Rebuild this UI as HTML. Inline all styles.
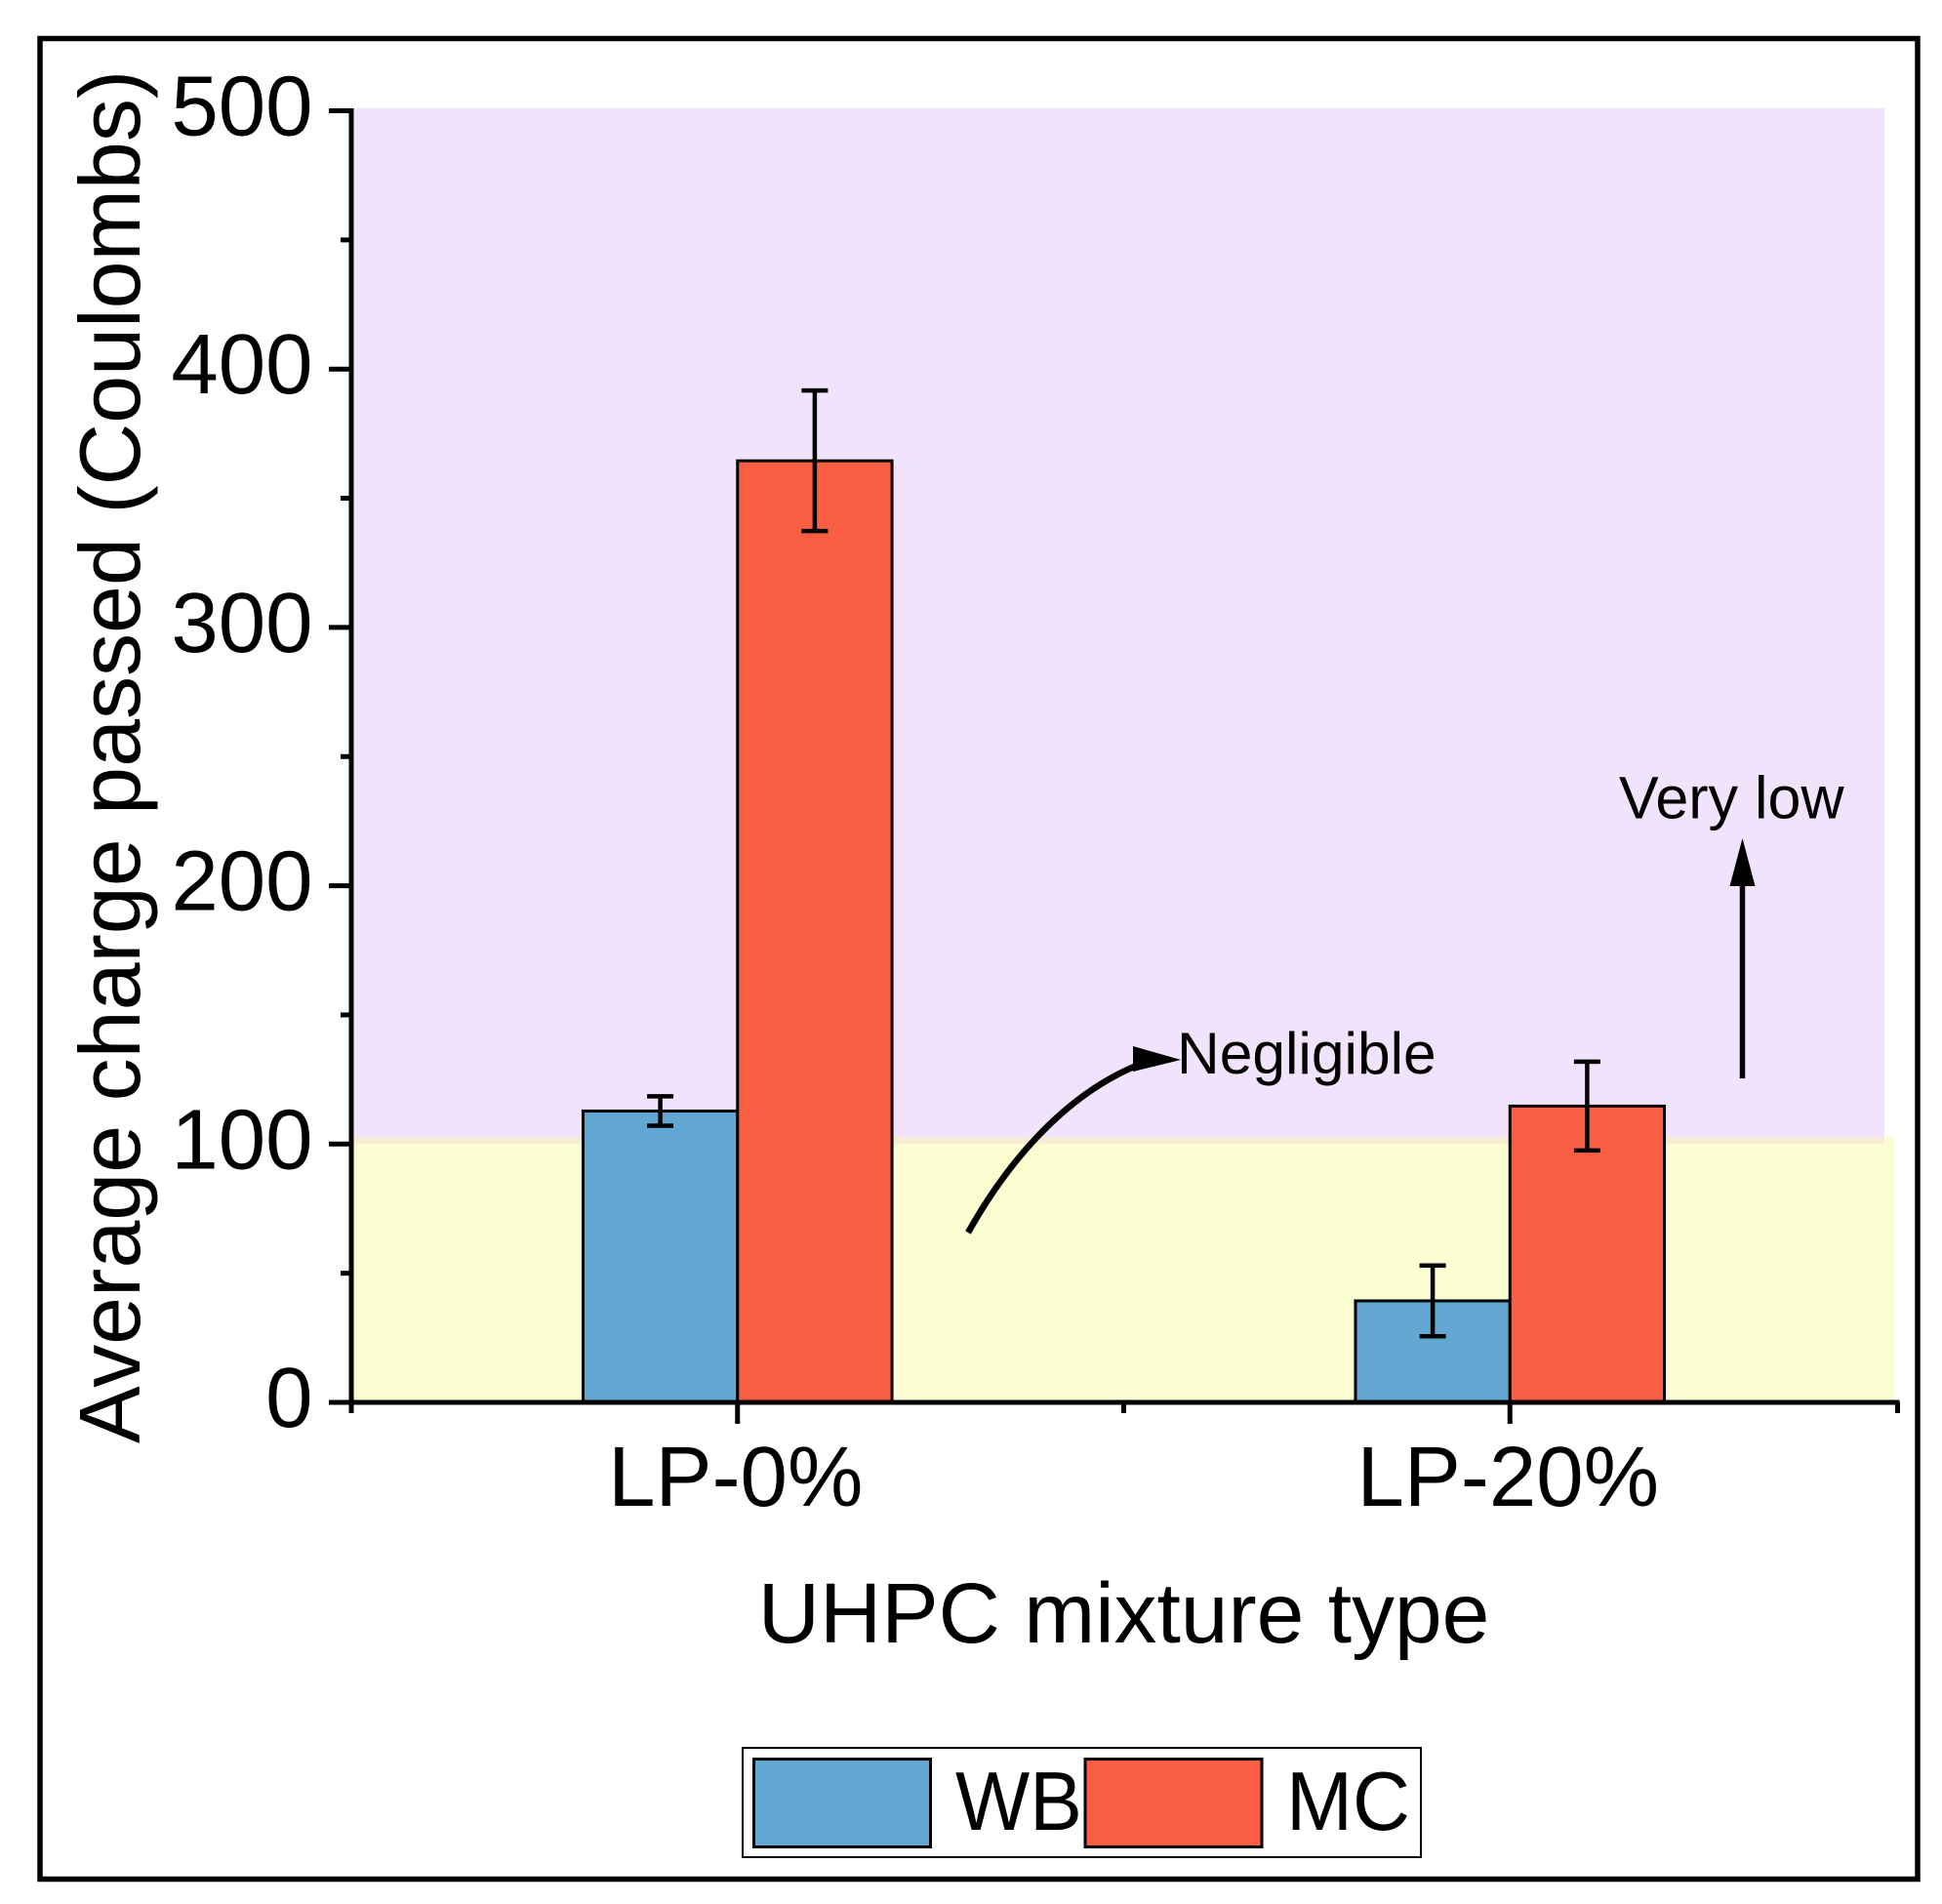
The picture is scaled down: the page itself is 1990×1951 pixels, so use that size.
<!DOCTYPE html>
<html lang="en">
<head>
<meta charset="utf-8">
<title>Average charge passed by UHPC mixture type</title>
<style>
html,body{margin:0;padding:0;background:#fff;width:1990px;height:1951px;overflow:hidden}
svg{display:block;font-family:"Liberation Sans",Arial,sans-serif}
text{fill:#000}
</style>
</head>
<body>
<svg id="chart" xmlns="http://www.w3.org/2000/svg" width="1990" height="1951" viewBox="0 0 1990 1951">
  <rect x="0" y="0" width="1990" height="1951" fill="#fff"/>
  <rect x="41" y="39.5" width="1924" height="1886" fill="none" stroke="#000" stroke-width="5.5"/>
  <g id="bands"></g>
  <g id="bars"></g>
  <g id="errors"></g>
  <g id="axes"></g>
  <text transform="translate(143,1479) rotate(-90)" font-size="88">Average charge passed (Coulombs)</text>
  <text x="1151.5" y="1683" font-size="87.6" text-anchor="middle">UHPC mixture type</text>
  <g>
    <path d="M992,1263 C1030,1195 1090,1120 1172,1089" fill="none" stroke="#000" stroke-width="6.5"/>
    <polygon points="1210,1086 1161,1072 1161,1098" fill="#000"/>
    <text x="1206" y="1100" font-size="60.5">Negligible</text>
  </g>
  <g>
    <line x1="1785.5" y1="1105" x2="1785.5" y2="900" stroke="#000" stroke-width="5.5"/>
    <polygon points="1785.5,859 1772.5,908 1798.5,908" fill="#000"/>
    <text x="1659" y="838.5" font-size="61">Very low</text>
  </g>
  <g>
    <rect x="761" y="1791" width="695" height="112" fill="#fff" stroke="#000" stroke-width="2"/>
    <rect x="772.5" y="1802.5" width="181" height="90" fill="#62A6D2" stroke="#000" stroke-width="3"/>
    <text x="979" y="1875" font-size="85" textLength="130" lengthAdjust="spacingAndGlyphs">WB</text>
    <rect x="1112" y="1802.5" width="181" height="90" fill="#F95E42" stroke="#000" stroke-width="3"/>
    <text x="1318" y="1875" font-size="85" textLength="127" lengthAdjust="spacingAndGlyphs">MC</text>
  </g>
</svg>
<script>
const categories = ['LP-0%', 'LP-20%'];
const wbValues = [112.8, 39.3];
const mcValues = [364.5, 114.7];
const wbErrors = [5.7, 13.7];
const mcErrors = [27.2, 17.2];
const yMajorTicks = [0, 100, 200, 300, 400, 500];
const yMinorTicks = [50, 150, 250, 350, 450];
const xMinorTicks = [0.5, 1.5, 2.5];
const highBandRange = [100, 501];
const lowBandRange = [0, 102.6];

const NS = 'http://www.w3.org/2000/svg';
function yScale(v) { return 1437 - v * 2.647; }
function xScale(c) { return 360 + (c - 0.5) * 791.5; }
const barWidth = xScale(0.7) - xScale(0.5);

function make(parentId, tag, attrs, text) {
  const el = document.createElementNS(NS, tag);
  for (const k in attrs) el.setAttribute(k, attrs[k]);
  if (text !== undefined) el.textContent = text;
  document.getElementById(parentId).appendChild(el);
  return el;
}
function line(parentId, x1, y1, x2, y2, w) {
  return make(parentId, 'line', { x1: x1, y1: y1, x2: x2, y2: y2, stroke: '#000', 'stroke-width': w });
}

// Rating bands
const highBand = make('bands', 'rect', { x: 363, y: yScale(highBandRange[1]), width: 1568, height: yScale(highBandRange[0]) - yScale(highBandRange[1]), fill: '#F2E3FD' });


const lowBand = make('bands', 'rect', { x: 362, y: yScale(lowBandRange[1]), width: 1579, height: yScale(lowBandRange[0]) - yScale(lowBandRange[1]), fill: '#FBFED1' });


const overlapBand = make('bands', 'rect', { x: 363, y: yScale(lowBandRange[1]), width: 1568, height: yScale(highBandRange[0]) - yScale(lowBandRange[1]), fill: '#F6EDD3' });



// Bars and error bars
categories.forEach(function (cat, i) {
  const cx = xScale(i + 1);

  const wbBar = make('bars', 'rect', { x: cx - barWidth, y: yScale(wbValues[i]), width: barWidth, height: yScale(0) - yScale(wbValues[i]), fill: '#62A6D2', stroke: '#000', 'stroke-width': 3 });
  
  

  const mcBar = make('bars', 'rect', { x: cx, y: yScale(mcValues[i]), width: barWidth, height: yScale(0) - yScale(mcValues[i]), fill: '#F95E42', stroke: '#000', 'stroke-width': 3 });
  
  

  [[cx - barWidth / 2, wbValues[i], wbErrors[i]], [cx + barWidth / 2, mcValues[i], mcErrors[i]]].forEach(function (e) {
    const hi = yScale(e[1] + e[2]);
    const lo = yScale(e[1] - e[2]);
    const stem = line('errors', e[0], hi, e[0], lo, 4.5);
    
    
    const capHi = line('errors', e[0] - 13.5, hi, e[0] + 13.5, hi, 4.5);
    
    
    const capLo = line('errors', e[0] - 13.5, lo, e[0] + 13.5, lo, 4.5);
    
    
  });
});

// Axes
const yAxisLine = line('axes', 360, yScale(0) + 2, 360, yScale(500) - 2.5, 5);


const xAxisLine = line('axes', 338, yScale(0), xScale(2.5) + 3.5, yScale(0), 5);



yMajorTicks.forEach(function (v) {
  const tick = line('axes', 337, yScale(v), 360, yScale(v), 5);
  
  
  const label = make('axes', 'text', { x: 320.5, y: yScale(v) + 25, 'font-size': 87, 'text-anchor': 'end' }, String(v));
  
  
});
yMinorTicks.forEach(function (v) {
  const tick = line('axes', 349, yScale(v), 360, yScale(v), 5);
  
  
});
xMinorTicks.forEach(function (c) {
  const tick = line('axes', xScale(c) + (c === 2.5 ? 1.5 : 0), yScale(0), xScale(c) + (c === 2.5 ? 1.5 : 0), yScale(0) + 11, 5);
  
  
});
categories.forEach(function (cat, i) {
  const tick = line('axes', xScale(i + 1), yScale(0), xScale(i + 1), yScale(0) + 22, 5);
  
  
  const label = make('axes', 'text', { x: xScale(i + 1) - 2, y: 1543, 'font-size': 87, 'text-anchor': 'middle' }, cat);
  
  
});
</script>
</body>
</html>
